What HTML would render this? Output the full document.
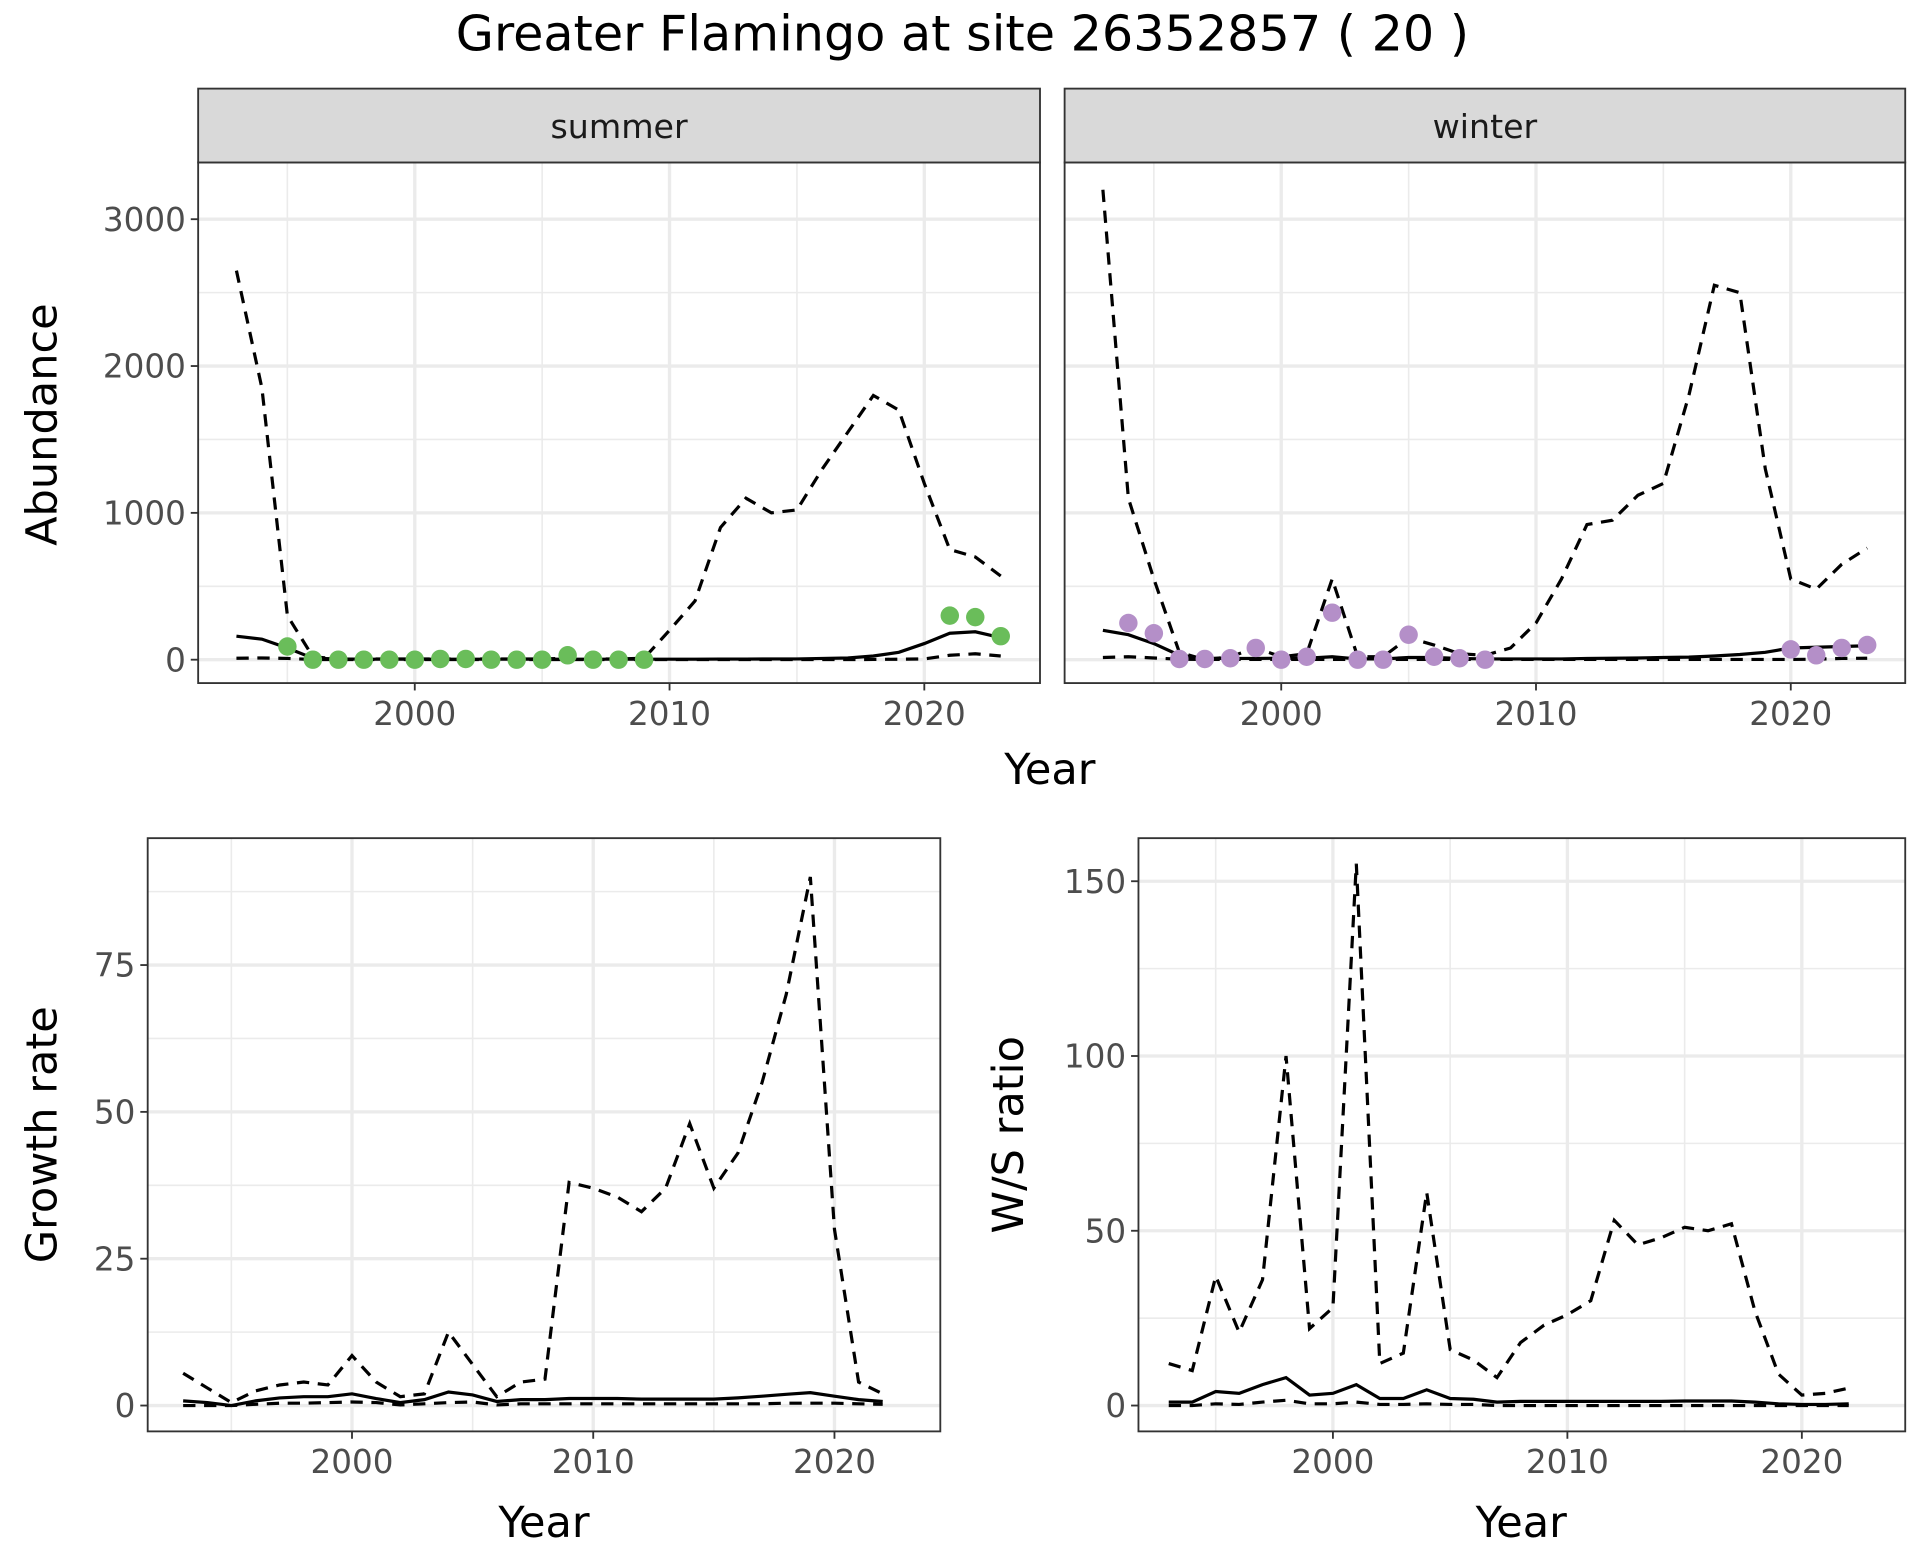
<!DOCTYPE html>
<html><head><meta charset="utf-8"><style>
html,body{margin:0;padding:0;background:#fff}
svg{display:block}
text{font-family:"DejaVu Sans","Liberation Sans",sans-serif}
</style></head><body>
<svg id="chart" width="1920" height="1560" viewBox="0 0 1560 1267.5" xmlns="http://www.w3.org/2000/svg">
<rect width="1560" height="1267.5" fill="#fff"/>
<text x="782" y="41" font-size="40" text-anchor="middle">Greater Flamingo at site 26352857 ( 20 )</text>
</svg>
<script>
const years = [1993,1994,1995,1996,1997,1998,1999,2000,2001,2002,2003,2004,2005,2006,2007,2008,2009,2010,2011,2012,2013,2014,2015,2016,2017,2018,2019,2020,2021,2022,2023];
const summerUpper = [2650,1850,300,20,5,5,5,5,5,5,5,5,5,10,5,5,10,200,400,900,1100,1000,1020,1300,1550,1800,1700,1200,750,700,570];
const summerMid = [160,140,80,10,5,3,3,3,3,3,3,3,3,3,3,3,3,3,3,4,4,5,5,8,12,25,50,110,180,190,150];
const summerLower = [10,12,8,2,1,1,1,1,1,1,1,1,1,1,1,1,1,1,1,1,1,1,1,1,1,2,3,5,30,40,25];
const summerPtYears = [1995,1996,1997,1998,1999,2000,2001,2002,2003,2004,2005,2006,2007,2008,2009,2021,2022,2023];
const summerPts = [90,0,0,0,0,0,5,5,0,0,0,30,0,0,0,300,290,160];
const winterUpper = [3200,1100,550,50,0,20,80,20,40,550,20,20,150,100,40,30,80,250,550,920,950,1120,1200,1800,2550,2500,1300,550,480,650,760];
const winterMid = [200,170,110,30,10,8,8,10,10,20,5,5,15,15,8,5,5,5,5,8,10,12,15,18,25,35,50,80,85,90,95];
const winterLower = [15,20,12,3,2,2,2,2,2,2,2,2,2,2,2,2,2,2,2,2,2,2,2,2,2,2,2,2,3,8,10];
const winterPtYears = [1994,1995,1996,1997,1998,1999,2000,2001,2002,2003,2004,2005,2006,2007,2008,2020,2021,2022,2023];
const winterPts = [250,180,5,5,10,80,0,20,320,0,0,170,20,10,0,70,30,80,100];
const gYears = years.slice(0,30);
const growthUpper = [5.5,3,0.5,2.5,3.5,4,3.5,8.5,4,1.5,2,12.5,7,1.5,4,4.5,38,37,35.5,33,37,48,37,43,55,70,90,30,4,2];
const growthMid = [0.8,0.5,0,0.8,1.3,1.5,1.5,2,1.2,0.5,1,2.3,1.8,0.7,1,1,1.2,1.2,1.2,1.1,1.1,1.1,1.1,1.3,1.6,1.9,2.2,1.6,1,0.7];
const growthLower = [0,0,0,0.2,0.4,0.4,0.5,0.6,0.5,0.1,0.3,0.5,0.6,0.1,0.3,0.3,0.3,0.3,0.3,0.3,0.3,0.3,0.3,0.3,0.3,0.4,0.4,0.4,0.3,0.2];
const wsUpper = [12,10,37,21,36,100,22,28,155,12,15,61,16,13,8,18,23,26,30,53,46,48,51,50,52,27,9,3,3.5,5];
const wsMid = [1,1,4,3.5,6,8,3,3.5,6,2,2,4.5,2,1.8,1,1.2,1.2,1.2,1.2,1.2,1.2,1.2,1.3,1.3,1.3,1,0.5,0.3,0.3,0.5];
const wsLower = [0,0,0.5,0.3,1,1.5,0.5,0.5,1,0.3,0.3,0.5,0.3,0.3,0,0,0,0,0,0,0,0,0,0,0,0,0,0,0,0];
const xTicks = [2000,2010,2020];
const xMinor = [1995,2005,2015];
const abTicks = [0,1000,2000,3000];
const grTicks = [0,25,50,75];
const wsTicks = [0,50,100,150];

const svg = document.getElementById('chart');
const NS = 'http://www.w3.org/2000/svg';
function mk(tag, attrs, parent){const e=document.createElementNS(NS,tag);for(const k in attrs)e.setAttribute(k,attrs[k]);(parent||svg).appendChild(e);return e;}

function panel(p){
  const g = mk('g',{});
  
  
  const X = v => p.x0 + (v - p.xa) * p.xs;
  const Y = v => p.y0 - (v) * p.ys;
  p.yMinor.forEach(v=>{ if(Y(v)>p.top && Y(v)<p.bottom){const l=mk('line',{x1:p.left,x2:p.right,y1:Y(v),y2:Y(v),stroke:'#ebebeb','stroke-width':1.3},g);
    
    }});
  xMinor.forEach(v=>{const l=mk('line',{x1:X(v),x2:X(v),y1:p.top,y2:p.bottom,stroke:'#ebebeb','stroke-width':1.3},g);
    
    });
  p.yTicks.forEach(v=>{const l=mk('line',{x1:p.left,x2:p.right,y1:Y(v),y2:Y(v),stroke:'#ebebeb','stroke-width':2.7},g);
    
    });
  xTicks.forEach(v=>{const l=mk('line',{x1:X(v),x2:X(v),y1:p.top,y2:p.bottom,stroke:'#ebebeb','stroke-width':2.7},g);
    
    });
  p.series.forEach(s=>{
    const d = s.vals.map((v,i)=>(i?'L':'M')+X(s.xs[i]).toFixed(1)+','+Y(v).toFixed(1)).join('');
    const path = mk('path',{d:d,fill:'none',stroke:'#000','stroke-width':2.6,'stroke-dasharray':s.dash?'10,7':'none'},g);
    
    
  });
  if(p.pts){p.pts.vals.forEach((v,i)=>{const c=mk('circle',{cx:X(p.pts.xs[i]),cy:Y(v),r:7.5,fill:p.pts.color},g);
    
    });}
  const b=mk('rect',{x:p.left,y:p.top,width:p.right-p.left,height:p.bottom-p.top,fill:'none',stroke:'#333','stroke-width':1.5},g);
  
  
  if(p.ylab){p.yTicks.forEach(v=>{
    mk('line',{x1:p.left-6,x2:p.left,y1:Y(v),y2:Y(v),stroke:'#333','stroke-width':1.5},g);
    const t=mk('text',{x:p.left-10,y:Y(v)+9.5,'font-size':26.5,fill:'#4d4d4d','text-anchor':'end'},g);t.textContent=v;
    
    });}
  xTicks.forEach(v=>{
    mk('line',{x1:X(v),x2:X(v),y1:p.bottom,y2:p.bottom+6,stroke:'#333','stroke-width':1.5},g);
    const t=mk('text',{x:X(v),y:p.bottom+34,'font-size':26.5,fill:'#4d4d4d','text-anchor':'middle'},g);t.textContent=v;
    
    });
  if(p.strip){
    const r=mk('rect',{x:p.left,y:p.top-60,width:p.right-p.left,height:60,fill:'#d9d9d9',stroke:'#333','stroke-width':1.5},g);
    
    
    const t=mk('text',{x:(p.left+p.right)/2,y:p.top-20,'font-size':27,fill:'#1a1a1a','text-anchor':'middle'},g);t.textContent=p.strip;
    
    
  }
  return g;
}

panel({name:'summer-panel',left:161,right:845,top:132,bottom:555,x0:337,xa:2000,xs:20.7,y0:536,ys:0.1193,
  yTicks:abTicks,yMinor:[500,1500,2500],ylab:true,strip:'summer',
  series:[{name:'summer-upper-dashed',xs:years,vals:summerUpper,dash:true},{name:'summer-lower-dashed',xs:years,vals:summerLower,dash:true},{name:'summer-estimate',xs:years,vals:summerMid}],
  pts:{xs:summerPtYears,vals:summerPts,color:'#6abd5a'}});
panel({name:'winter-panel',left:865,right:1548,top:132,bottom:555,x0:1041,xa:2000,xs:20.7,y0:536,ys:0.1193,
  yTicks:abTicks,yMinor:[500,1500,2500],ylab:false,strip:'winter',
  series:[{name:'winter-upper-dashed',xs:years,vals:winterUpper,dash:true},{name:'winter-lower-dashed',xs:years,vals:winterLower,dash:true},{name:'winter-estimate',xs:years,vals:winterMid}],
  pts:{xs:winterPtYears,vals:winterPts,color:'#b48fc8'}});
panel({name:'growth-panel',left:120,right:764,top:681,bottom:1163,x0:286,xa:2000,xs:19.6,y0:1142,ys:4.772,
  yTicks:grTicks,yMinor:[12.5,37.5,62.5,87.5],ylab:true,
  series:[{name:'growth-upper-dashed',xs:gYears,vals:growthUpper,dash:true},{name:'growth-lower-dashed',xs:gYears,vals:growthLower,dash:true},{name:'growth-estimate',xs:gYears,vals:growthMid}]});
panel({name:'ws-ratio-panel',left:925,right:1548,top:681,bottom:1163,x0:1083,xa:2000,xs:19.05,y0:1142,ys:2.84,
  yTicks:wsTicks,yMinor:[25,75,125],ylab:true,
  series:[{name:'ws-upper-dashed',xs:gYears,vals:wsUpper,dash:true},{name:'ws-lower-dashed',xs:gYears,vals:wsLower,dash:true},{name:'ws-estimate',xs:gYears,vals:wsMid}]});

function title(txt,x,y,rot,name){
  const t=mk('text',{x:x,y:y,'font-size':35,'text-anchor':'middle',fill:'#000'});
  if(rot)t.setAttribute('transform','rotate(-90 '+x+' '+y+')');
  t.textContent=txt;
  
  
}
title('Year',853,637,false,'top-x-axis-title');
title('Abundance',46,345,true,'abundance-y-title');
title('Year',442,1249,false,'growth-x-axis-title');
title('Growth rate',46,922,true,'growth-y-title');
title('Year',1236,1249,false,'ws-x-axis-title');
title('W/S ratio',831,922,true,'ws-y-title');
</script>
</body></html>
